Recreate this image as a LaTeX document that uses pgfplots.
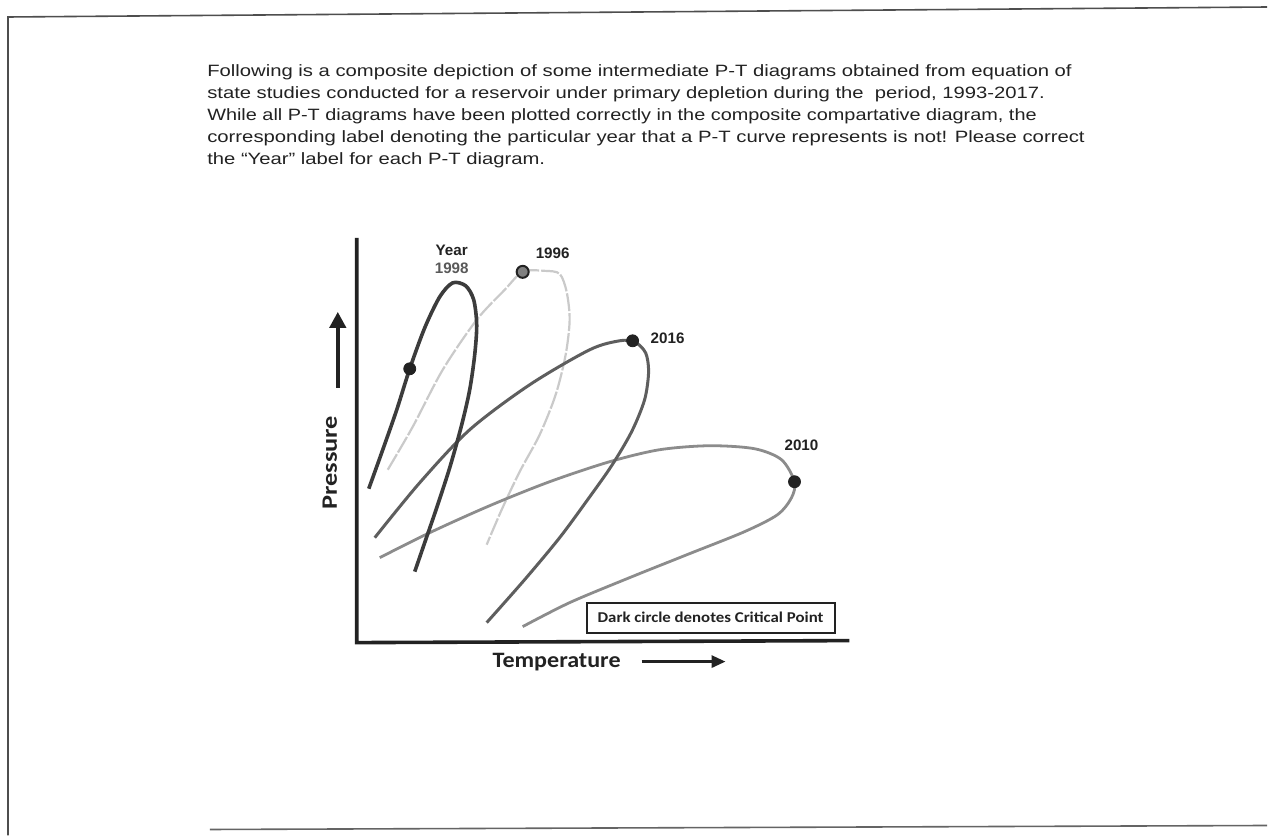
\documentclass[border=0pt]{standalone}
\usepackage{pgfplots}
\pgfplotsset{compat=1.18}
\usepackage{fontspec}
\setmainfont{Liberation Sans}
\newfontfamily\calib{Carlito}
\usetikzlibrary{arrows.meta}
\usepackage{graphicx}
\definecolor{ink}{HTML}{222222}
\definecolor{cA}{HTML}{3C3C3C}
\definecolor{cB}{HTML}{CACACA}
\definecolor{cC}{HTML}{5E5E5E}
\definecolor{cD}{HTML}{8C8C8C}
\newcommand\tl[2]{\resizebox{#1}{\height}{#2}}
\begin{document}
\begin{tikzpicture}
\begin{axis}[
  scale only axis, width=634pt, height=418pt,
  xmin=0, xmax=1268, ymin=0, ymax=836, y dir=reverse,
  hide axis, clip=false,
]
\path[fill=white] (axis cs:0,0) rectangle (axis cs:1268,836);
% page frame
\addplot[ink!80, line width=0.8pt] coordinates {(8,836) (8,17) (1268,7)};
\addplot[ink!70, line width=0.8pt] coordinates {(210,830) (1268,826)};
% paragraph
\begin{scope}[every node/.style={anchor=west, inner sep=0pt, text=ink, font=\fontsize{8.2}{10}\selectfont}]
\node at (axis cs:207,72) {\tl{432.5pt}{Following is a composite depiction of some intermediate P-T diagrams obtained from equation of}};
\node at (axis cs:207,94) {\tl{419pt}{state studies conducted for a reservoir under primary depletion during the\ \ period, 1993-2017.}};
\node at (axis cs:207,116) {\tl{415pt}{While all P-T diagrams have been plotted correctly in the composite compartative diagram, the}};
\node at (axis cs:207,138) {\tl{439pt}{corresponding label denoting the particular year that a P-T curve represents is not! Please correct}};
\node at (axis cs:207,160) {\tl{169pt}{the “Year” label for each P-T diagram.}};
\end{scope}
% chart axes
\addplot[ink, line width=1.8pt] coordinates {(357,238) (357,643) (850,641)};
% curves
\addplot[cB, line width=1.1pt, smooth, dash pattern=on 9pt off 1pt] coordinates {
(388,470) (413,427) (443,370) (477,320) (505,290) (523,272) (545,271) (560,274) (567,292) (570,320) (566,355) (556,395) (540,435) (520,472) (502,510) (487,545)};
\addplot[cD, line width=1.4pt, smooth] coordinates {
(380,558) (430,533) (490,506) (550,482) (610,462) (660,450) (710,446) (755,449) (782,460) (795,482) (792,498) (778,515) (745,532) (690,554) (630,578) (570,603) (523,627)};
\addplot[cC, line width=1.5pt, smooth] coordinates {
(375,538) (420,483) (470,430) (530,385) (590,350) (620,341) (635,342) (646,353) (649,372) (645,400) (632,432) (612,466) (588,500) (560,538) (525,580) (487,623)};
\addplot[cA, line width=1.8pt, smooth] coordinates {
(369,489) (383,450) (397,410) (410,369) (425,328) (440,297) (453,283) (466,286) (474,300) (477,325) (475,355) (470,390) (462,425) (450,468) (437,508) (426,540) (415,572)};
% critical points
\addplot[only marks, mark=*, mark size=3pt, mark options={fill=ink, draw=ink}] coordinates {(410,369) (633,341) (795,482)};
\addplot[only marks, mark=*, mark size=3pt, mark options={fill=gray, draw=ink, line width=1pt}] coordinates {(523,272)};
% labels
\begin{scope}[every node/.style={inner sep=0pt, text=ink, font=\fontsize{7.6}{9}\selectfont\bfseries}]
\node at (axis cs:452,250) {Year};
\node[text=ink!75] at (axis cs:452,268) {1998};
\node at (axis cs:553,253) {1996};
\node at (axis cs:668,338) {2016};
\node at (axis cs:802,446) {2010};
\end{scope}
% axis labels and arrows
\draw[ink, line width=2pt, -{Triangle[width=8pt,length=8pt]}] (axis cs:338,388) -- (axis cs:338,312);
\draw[ink, line width=1.5pt, -{Triangle[width=6pt,length=7pt]}] (axis cs:642,662) -- (axis cs:726,662);
\node[rotate=90, inner sep=0pt, text=ink, font=\calib\bfseries\fontsize{11}{13}\selectfont] at (axis cs:330,463) {\tl{47pt}{Pressure}};
\node[inner sep=0pt, text=ink, font=\calib\bfseries\fontsize{11}{13}\selectfont] at (axis cs:557,663) {\tl{64pt}{Temperature}};
% legend box
\draw[ink, line width=1pt] (axis cs:587,603) rectangle (axis cs:836,633);
\node[inner sep=0pt, text=ink, font=\calib\bfseries\fontsize{7.5}{9}\selectfont] at (axis cs:711,618) {\tl{113pt}{Dark circle denotes Critical Point}};
\end{axis}
\end{tikzpicture}
\end{document}
